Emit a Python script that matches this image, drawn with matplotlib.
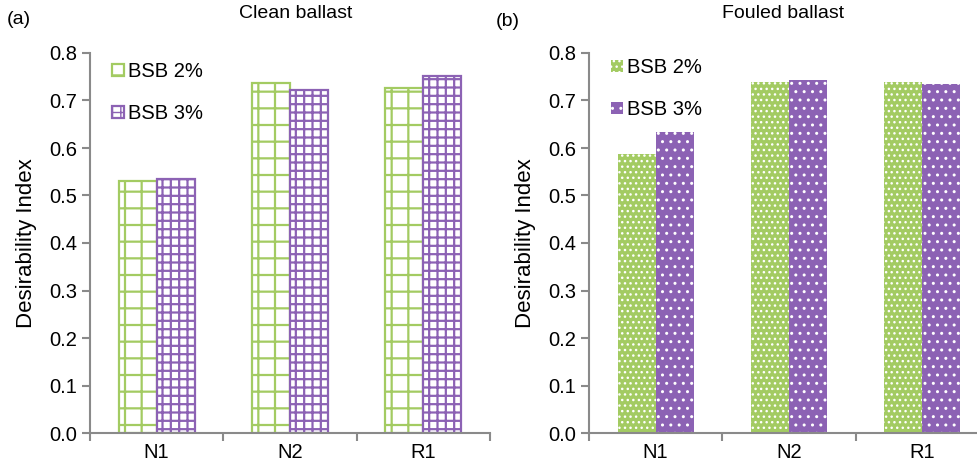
import numpy as np
import matplotlib
matplotlib.use("Agg")
import matplotlib.pyplot as plt

# Data
categories = ["N1", "N2", "R1"]
series_labels = ["BSB 2%", "BSB 3%"]
clean_2 = [0.530, 0.737, 0.727]
clean_3 = [0.535, 0.722, 0.752]
fouled_2 = [0.587, 0.739, 0.739]
fouled_3 = [0.633, 0.743, 0.735]
yticks = [0.0, 0.1, 0.2, 0.3, 0.4, 0.5, 0.6, 0.7, 0.8]

green = "#a3cb62"
purple = "#8c62b4"
axis_gray = "#8a8a8a"
fs = 14.5

plt.rcParams['font.family'] = ['Liberation Sans', 'DejaVu Sans']
plt.rcParams['hatch.linewidth'] = 1.6

W, H = 977, 465
fig = plt.figure(figsize=(W / 100, H / 100), dpi=100)

# axes boxes in pixels
ax1 = fig.add_axes([90 / W, 1 - 433 / H, 400 / W, 380 / H])
ax2 = fig.add_axes([589 / W, 1 - 433 / H, 400 / W, 380 / H])

x = np.arange(len(categories))
bw = 0.285


def style_axes(ax):
    ax.set_xlim(-0.5, 2.5)
    ax.set_ylim(0, 0.8)
    ax.set_yticks(yticks)
    ax.set_yticklabels([f"{v:.1f}" for v in yticks], fontsize=fs)
    ax.set_xticks([-0.5, 0.5, 1.5, 2.5])
    ax.set_xticklabels([])
    ax.set_xticks(x, minor=True)
    ax.set_xticklabels(categories, minor=True, fontsize=fs)
    ax.tick_params(axis='x', which='minor', length=0, pad=7)
    ax.tick_params(axis='x', which='major', length=6, width=1.5, color=axis_gray, direction='out')
    ax.tick_params(axis='y', length=6, width=1.5, color=axis_gray, direction='out', pad=3)
    for s in ['top', 'right']:
        ax.spines[s].set_visible(False)
    for s in ['left', 'bottom']:
        ax.spines[s].set_color(axis_gray)
        ax.spines[s].set_linewidth(1.5)
    ax.set_ylabel("Desirability Index", fontsize=16, labelpad=9)


# Clean ballast: open grid hatches
ax1.bar(x - bw / 2, clean_2, bw, facecolor='white', edgecolor=green,
        hatch='+', linewidth=1.6, label=series_labels[0])
ax1.bar(x + bw / 2, clean_3, bw, facecolor='white', edgecolor=purple,
        hatch='++', linewidth=1.6, label=series_labels[1])
style_axes(ax1)

# Fouled ballast: filled with white dots
plt.rcParams['hatch.linewidth'] = 1.0
ax2.bar(x - bw / 2, fouled_2, bw, facecolor=green, edgecolor='white',
        hatch='...', linewidth=0, label=series_labels[0])
ax2.bar(x + bw / 2, fouled_3, bw, facecolor=purple, edgecolor='white',
        hatch='..', linewidth=0, label=series_labels[1])
style_axes(ax2)

leg_kw = dict(loc='upper left', bbox_transform=fig.transFigure, frameon=False,
              fontsize=fs, handlelength=0.6, handleheight=0.6, handletextpad=0.2,
              labelspacing=1.15, borderpad=0, borderaxespad=0)
ax1.legend(bbox_to_anchor=(112 / W, 1 - 62 / H), **leg_kw)
ax2.legend(bbox_to_anchor=(611 / W, 1 - 58 / H), **leg_kw)

fig.text(296 / W, 1 - 13 / H, "Clean ballast", ha='center', va='center', fontsize=14)
fig.text(783 / W, 1 - 13 / H, "Fouled ballast", ha='center', va='center', fontsize=14)
fig.text(7 / W, 1 - 20 / H, "(a)", ha='left', va='center', fontsize=14)
fig.text(496 / W, 1 - 22 / H, "(b)", ha='left', va='center', fontsize=14)

fig.savefig("out.png", dpi=100)
